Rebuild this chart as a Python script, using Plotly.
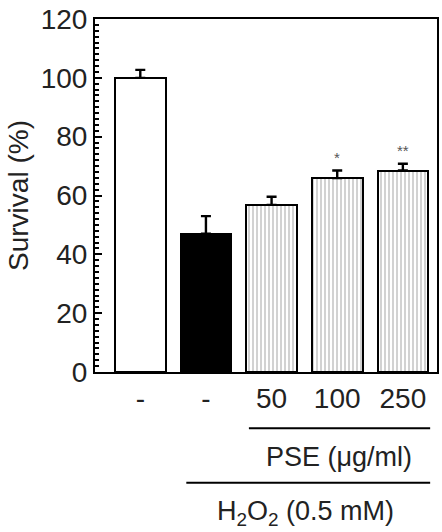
import plotly.graph_objects as go

categories = ["-", "-", "50", "100", "250"]
survival = [100, 47, 56.8, 65.9, 68.5]
errors = [2.7, 6.0, 2.8, 2.6, 2.3]
significance = ["", "", "", "*", "**"]

xpos = list(range(len(categories)))
fills = ["white", "black", "#b4b4b4", "#b4b4b4", "#b4b4b4"]
patterns = ["", "", "|", "|", "|"]

fig = go.Figure()
fig.add_trace(go.Bar(
    x=xpos, y=survival, width=0.77,
    marker=dict(color=fills, line=dict(color="black", width=2),
                pattern=dict(shape=patterns, fgcolor="#f2f2f2", bgcolor="#b0b0b0",
                             size=4, solidity=0.3, fillmode="replace")),
    error_y=dict(type="data", array=errors, arrayminus=[0]*len(errors),
                 color="black", thickness=2.4, width=5),
    showlegend=False,
))

for x, y, e, s in zip(xpos, survival, errors, significance):
    if s:
        fig.add_annotation(x=x, y=y + e, text=s, showarrow=False, yshift=13,
                           font=dict(size=15, color="#555", family="Liberation Sans"))

fig.add_shape(type="line", xref="paper", yref="paper", x0=0.45, x1=0.98, y0=-0.159, y1=-0.159,
              line=dict(color="black", width=2))
fig.add_shape(type="line", xref="paper", yref="paper", x0=0.267, x1=0.98, y0=-0.314, y1=-0.314,
              line=dict(color="black", width=2))
fig.add_annotation(xref="paper", yref="paper", x=0.712, y=-0.241, text="PSE (μg/ml)",
                   xanchor="center", yanchor="middle",
                   showarrow=False, font=dict(size=27, color="#222", family="Liberation Sans"))
fig.add_annotation(xref="paper", yref="paper", x=0.616, y=-0.40,
                   xanchor="center", yanchor="middle",
                   text="H<sub>2</sub>O<sub>2</sub> (0.5 mM)",
                   showarrow=False, font=dict(size=27, color="#222", family="Liberation Sans"))

fig.update_layout(
    width=442, height=532,
    margin=dict(l=95, r=3, t=19, b=160),
    plot_bgcolor="white", paper_bgcolor="white",
    font=dict(family="Liberation Sans", size=28, color="#222"),
    bargap=0,
)
fig.update_xaxes(
    range=[-0.69, 4.52], tickvals=xpos, ticktext=categories,
    showline=True, linecolor="black", linewidth=2, mirror=True,
    ticks="", showgrid=False, zeroline=False, tickfont=dict(size=28),
)
fig.update_yaxes(
    range=[0, 120], dtick=20, title=dict(text="Survival (%)", font=dict(size=28), standoff=4),
    showline=True, linecolor="black", linewidth=2, mirror=True,
    ticks="inside", ticklen=7, tickwidth=2, tickcolor="black",
    minor=dict(dtick=2, ticks="inside", ticklen=4, tickcolor="black", tickwidth=1.5),
    showgrid=False, zeroline=False, tickfont=dict(size=28),
)

fig.write_html("out.html")
